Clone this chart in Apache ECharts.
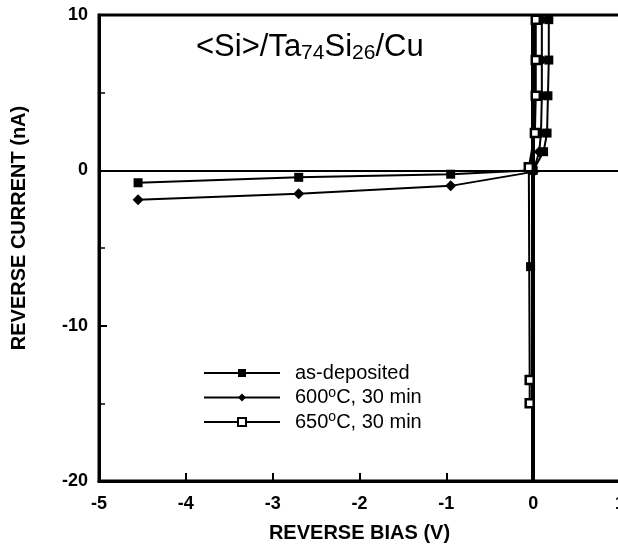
<!DOCTYPE html>
<html>
<head>
<meta charset="utf-8">
<script src="https://cdn.jsdelivr.net/npm/echarts@6/dist/echarts.min.js"></script>
<style>
  html, body { margin: 0; padding: 0; background: #fff; }
  #chart { width: 618px; height: 546px; }
</style>
</head>
<body>
<div id="chart"></div>
<script>
// data (bias V, current nA)
var seriesNames = ['as-deposited', '600{sup|o}C, 30 min', '650{sup|o}C, 30 min'];
var asDeposited = [[-0.03, -6.2], '-', [-4.55, -0.8], [-2.7, -0.45], [-0.95, -0.25], [0.0, 0.0], [0.12, 1.2], [0.16, 2.4], [0.17, 4.8], [0.18, 7.1], [0.18, 9.7]];
var anneal600 = [[-4.55, -1.9], [-2.7, -1.5], [-0.95, -1.0], [0.0, -0.1], [0.07, 1.2], [0.09, 2.4], [0.1, 4.8], [0.1, 7.1], [0.1, 9.7]];
var anneal650 = [[-0.04, -15.0], [-0.04, -13.5], [-0.05, 0.2], [0.02, 2.4], [0.03, 4.8], [0.03, 7.1], [0.03, 9.7]];
var xTicks = [-5, -4, -3, -2, -1, 0, 1];
var yTicks = [-20, -10, 0, 10];

var myCharts = echarts.init(document.getElementById('chart'));
var font = 'Liberation Sans';

option = {
    animation: false,
    title: {
        text: '<Si>/Ta{sub|74}Si{sub|26}/Cu',
        left: 191,
        top: 26,
        textStyle: {
            fontFamily: font, fontSize: 31, fontWeight: 'normal', color: '#000',
            rich: {
                sub: { fontFamily: font, fontSize: 21, verticalAlign: 'bottom', padding: [12, 0, 0, 0], color: '#000' }
            }
        }
    },
    legend: {
        orient: 'vertical',
        left: 198,
        top: 358,
        itemWidth: 76,
        itemHeight: 10,
        itemGap: 3,
        formatter: function (name) { return name; },
        textStyle: {
            fontFamily: font, fontSize: 20, color: '#000', padding: [0, 0, 0, 10],
            rich: { sup: { fontFamily: font, fontSize: 14, verticalAlign: 'top', padding: [0, 0, 9, 0], color: '#000' } }
        },
        data: seriesNames
    },
    grid: {
        left: 99,
        right: -2,
        top: 15,
        bottom: 65,
        outerBoundsMode: 'none',
        show: true,
        borderColor: '#000',
        borderWidth: 3
    },
    xAxis: {
        type: 'value',
        min: xTicks[0],
        max: xTicks[xTicks.length - 1],
        interval: 1,
        name: 'REVERSE BIAS (V)',
        nameLocation: 'middle',
        nameGap: 42,
        nameTextStyle: { fontFamily: font, fontSize: 20, fontWeight: 'bold', color: '#000' },
        axisLine: { show: true, onZero: false, lineStyle: { color: '#000', width: 3 } },
        axisTick: { show: true, inside: true, length: 8, lineStyle: { color: '#000', width: 2 } },
        axisLabel: { fontFamily: font, fontSize: 18, fontWeight: 'bold', color: '#000', margin: 14 },
        splitLine: { show: false }
    },
    yAxis: {
        type: 'value',
        min: yTicks[0],
        max: yTicks[yTicks.length - 1],
        interval: 10,
        name: 'REVERSE CURRENT (nA)',
        nameLocation: 'middle',
        nameGap: 70,
        nameTextStyle: { fontFamily: font, fontSize: 20, fontWeight: 'bold', color: '#000', padding: [0, 0, 0, 40] },
        axisLine: { show: true, onZero: false, lineStyle: { color: '#000', width: 3 } },
        axisTick: { show: true, inside: true, length: 8, lineStyle: { color: '#000', width: 2 } },
        minorTick: { show: true, splitNumber: 2, length: 6, lineStyle: { color: '#000', width: 1.5 } },
        axisLabel: { fontFamily: font, fontSize: 18, fontWeight: 'bold', color: '#000', margin: 11 },
        splitLine: { show: false }
    },
    series: [
        {
            name: seriesNames[0],
            type: 'line',
            data: asDeposited,
            symbol: 'rect',
            symbolSize: 9,
            itemStyle: { color: '#000' },
            lineStyle: { color: '#000', width: 2 },
            z: 5,
            markLine: {
                silent: true,
                symbol: 'none',
                label: { show: false },
                data: [
                    { xAxis: 0, lineStyle: { color: '#000', width: 4, type: 'solid' } },
                    { yAxis: 0, lineStyle: { color: '#000', width: 2, type: 'solid' } }
                ]
            }
        },
        {
            name: seriesNames[1],
            type: 'line',
            data: anneal600,
            symbol: 'diamond',
            symbolSize: 11,
            itemStyle: { color: '#000' },
            lineStyle: { color: '#000', width: 2 },
            z: 5
        },
        {
            name: seriesNames[2],
            type: 'line',
            data: anneal650,
            symbol: 'rect',
            symbolSize: 8,
            itemStyle: { color: '#fff', borderColor: '#000', borderWidth: 2.5 },
            lineStyle: { color: '#000', width: 2 },
            z: 5
        }
    ]
};

myCharts.setOption(option);
</script>
</body>
</html>
